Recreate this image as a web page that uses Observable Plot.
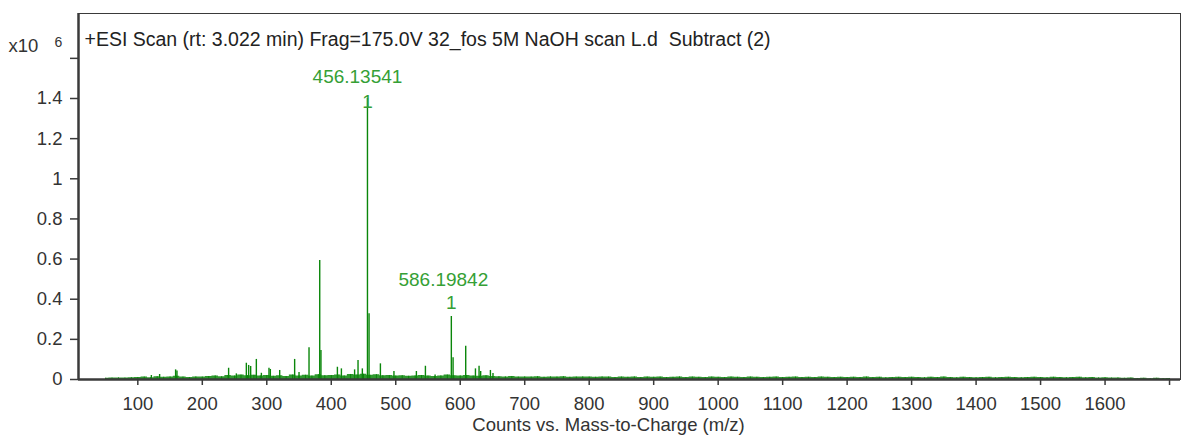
<!DOCTYPE html>
<html>
<head>
<meta charset="utf-8">
<script src="https://cdn.jsdelivr.net/npm/d3@7"></script>
<script src="https://cdn.jsdelivr.net/npm/@observablehq/plot@0.6"></script>
<style>
  html, body { margin: 0; padding: 0; background: #fff; }
  #chart svg { display: block; }
</style>
</head>
<body>
<div id="chart"></div>
<script>
// ---- data (intensity in units of 10^6 counts) ----
const titleText = "+ESI Scan (rt: 3.022 min) Frag=175.0V 32_fos 5M NaOH scan L.d  Subtract (2)";
const xLabel = "Counts vs. Mass-to-Charge (m/z)";

const peakMz = [121, 133.8, 158.6, 160.7, 240.8, 252.8, 268.3, 271.9, 275, 283.8, 291.6, 303.4, 305.5, 320,
  343.2, 350, 365.5, 382.1, 384, 409.5, 415.7, 436.2, 441.5, 448.2, 456.13541, 458.6, 476.2, 497.2, 532, 546,
  561, 586.19842, 588.9, 608.5, 623.6, 629.2, 631.7, 646.8, 650.8];
const peakInt = [0.02, 0.025, 0.048, 0.042, 0.056, 0.028, 0.081, 0.07, 0.065, 0.1, 0.031, 0.056, 0.05, 0.045,
  0.1, 0.035, 0.158, 0.593, 0.144, 0.061, 0.053, 0.048, 0.095, 0.053, 1.40, 0.327, 0.078, 0.04, 0.04, 0.066,
  0.022, 0.314, 0.108, 0.166, 0.053, 0.066, 0.04, 0.045, 0.03];

// baseline noise, read every 10 m/z from 50 to 1700
const noiseInt = [
  0.006, 0.007, 0.008, 0.007, 0.009,
  0.010, 0.012, 0.009, 0.014, 0.011, 0.013, 0.016, 0.012, 0.010, 0.013,
  0.012, 0.015, 0.018, 0.014, 0.020, 0.017, 0.022, 0.019, 0.021, 0.018,
  0.020, 0.016, 0.019, 0.015, 0.022, 0.018, 0.021, 0.017, 0.024, 0.019,
  0.020, 0.023, 0.018, 0.025, 0.022, 0.026, 0.021, 0.024, 0.019, 0.020,
  0.017, 0.019, 0.016, 0.018, 0.020, 0.017, 0.015, 0.018, 0.022, 0.019,
  0.018, 0.020, 0.017, 0.016, 0.019, 0.015, 0.014, 0.013, 0.015, 0.012,
  0.013, 0.012, 0.014, 0.011, 0.013, 0.012, 0.014, 0.011, 0.012, 0.013,
  0.012, 0.011, 0.013, 0.012, 0.010, 0.012, 0.011, 0.013, 0.010, 0.012,
  0.011, 0.012, 0.010, 0.011, 0.013, 0.010, 0.012, 0.011, 0.010, 0.012,
  0.011, 0.010, 0.012, 0.011, 0.010, 0.012, 0.011, 0.010, 0.011, 0.012,
  0.010, 0.011, 0.012, 0.010, 0.011, 0.010, 0.012, 0.011, 0.010, 0.011,
  0.010, 0.011, 0.010, 0.012, 0.010, 0.011, 0.009, 0.010, 0.011, 0.010,
  0.011, 0.010, 0.009, 0.011, 0.010, 0.012, 0.010, 0.009, 0.011, 0.010,
  0.009, 0.010, 0.011, 0.009, 0.010, 0.011, 0.010, 0.009, 0.010, 0.011,
  0.010, 0.009, 0.011, 0.010, 0.009, 0.010, 0.011, 0.009, 0.010, 0.008,
  0.009, 0.007, 0.008, 0.006, 0.007, 0.005, 0.006, 0.004, 0.006, 0.004, 0.005
];
const noiseMz = noiseInt.map((_, i) => 50 + 10 * i);

const labelMz = [456.13541, 586.19842];
const labelInt = [1.40, 0.314];
const labelText = ["456.13541", "586.19842"];
const labelCharge = ["1", "1"];

const xTicks = [100, 200, 300, 400, 500, 600, 700, 800, 900, 1000, 1100, 1200, 1300, 1400, 1500, 1600, 1700];
const xTickLabels = ["100", "200", "300", "400", "500", "600", "700", "800", "900", "1000", "1100", "1200", "1300", "1400", "1500", "1600", ""];
const yTicks = [0, 0.2, 0.4, 0.6, 0.8, 1, 1.2, 1.4, 1.6];
const yTickLabels = ["0", "0.2", "0.4", "0.6", "0.8", "1", "1.2", "1.4", ""];

// ---- tables ----
const peaks = peakMz.map((mz, i) => ({mz, v: peakInt[i]}));
const noise = noiseMz.map((mz, i) => ({mz, v: noiseInt[i]}));
const labels = labelMz.map((mz, i) => ({mz, v: labelInt[i], t: labelText[i], c: labelCharge[i]}));

const green = "#0a860a";
const labelGreen = "#35a035";
const axisColor = "#3a3a3a";
const xDomain = [8, 1717];
const yDomain = [0, 1.8235];

const chart = Plot.plot({
  width: 1187,
  height: 435,
  marginLeft: 78,
  marginRight: 7,
  marginTop: 13,
  marginBottom: 56,
  style: {fontFamily: "'Liberation Sans', Arial, sans-serif", fontSize: "18px", color: "#333", background: "#fff"},
  x: {domain: xDomain},
  y: {domain: yDomain},
  marks: [
    Plot.frame({stroke: axisColor, strokeWidth: 1}),
    Plot.areaY(noise, {x: "mz", y: "v", fill: green, fillOpacity: 0.85, curve: "step"}),
    Plot.ruleX(noise, {x: "mz", y1: 0, y2: "v", stroke: green, strokeWidth: 1}),
    Plot.ruleX(peaks, {x: "mz", y1: 0, y2: "v", stroke: green, strokeWidth: 1.4}),
    Plot.ruleY([0], {stroke: axisColor, strokeWidth: 2.5}),
    Plot.ruleX([xDomain[0]], {stroke: axisColor, strokeWidth: 2.5}),
    Plot.axisX({ticks: xTicks, tickFormat: (d, i) => xTickLabels[i], tickSize: 6, tickPadding: 11,
      stroke: axisColor, strokeWidth: 1.5, fill: "#333", fontSize: 18.5, label: null}),
    Plot.axisY({ticks: yTicks, tickFormat: (d, i) => yTickLabels[i], tickSize: 8, tickPadding: 8,
      stroke: axisColor, strokeWidth: 1.5, fill: "#333", fontSize: 18.5, label: null}),
    // title inside the frame
    Plot.text([titleText], {frameAnchor: "top-left", lineAnchor: "middle", dx: 6, dy: 26, textAnchor: "start", fontSize: 19.5, fill: "#222"}),
    // x10^6 exponent marker
    Plot.text(["x10"], {frameAnchor: "top-left", lineAnchor: "middle", dx: -70, dy: 33, textAnchor: "start", fontSize: 18.5, fill: "#333"}),
    Plot.text(["6"], {frameAnchor: "top-left", lineAnchor: "middle", dx: -24, dy: 29, textAnchor: "start", fontSize: 14, fill: "#333"}),
    // axis title
    Plot.text([xLabel], {frameAnchor: "bottom", lineAnchor: "middle", dx: -21, dy: 46, fontSize: 18.5, fill: "#333"}),
    // peak annotations
    Plot.text(labels.slice(0, 1), {x: "mz", y: "v", text: "t", dx: -10, dy: -22, fontSize: 19, fill: labelGreen}),
    Plot.text(labels.slice(0, 1), {x: "mz", y: "v", text: "c", dy: 3, fontSize: 19, fill: labelGreen}),
    Plot.text(labels.slice(1, 2), {x: "mz", y: "v", text: "t", dx: -8, dy: -37, fontSize: 19, fill: labelGreen}),
    Plot.text(labels.slice(1, 2), {x: "mz", y: "v", text: "c", dy: -14, fontSize: 19, fill: labelGreen})
  ]
});
document.getElementById("chart").appendChild(chart);
</script>
</body>
</html>
